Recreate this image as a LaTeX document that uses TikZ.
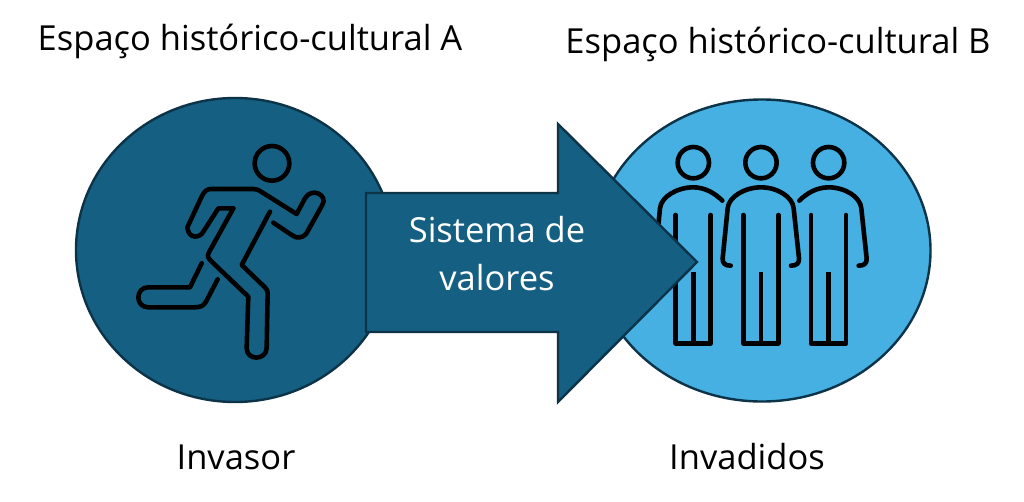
\documentclass[tikz,border=0pt]{standalone}
\usepackage{fontspec}
\setmainfont{Open Sans}
\begin{document}
\begin{tikzpicture}%
	[x=1pt, y=-1pt,
	disc/.style={draw=borderblue, line width=2.4pt},
	figline/.style={draw=black, line width=4.6pt, line cap=round, line join=round},
	label/.style={font=\fontsize{34.5}{40}\selectfont, anchor=base, inner sep=0pt, text=black},
	arrowlabel/.style={label, text=white}]
	\definecolor{darkblue}{HTML}{156082}
	\definecolor{lightblue}{HTML}{45B0E1}
	\definecolor{borderblue}{HTML}{0C3348}
	\useasboundingbox (0,0) rectangle (1024,501);
	%
	%% the two discs
	\fill[darkblue, disc] (235,250) ellipse (159 and 152);
	\fill[lightblue, disc] (762,250.5) ellipse (168.5 and 151);
	%
	%% runner
	\begin{scope}[shift={(120,130)}, x=0.3333pt, y=-0.3333pt]
		\draw[figline] (456,100) circle (52);
		\draw[figline] (340,235) -- (295,235) -- (250,305) .. controls (240,325) and (205,328) .. (202,292) -- (245,200) .. controls (255,180) and (262,177) .. (275,177) -- (400,177) .. controls (410,177) and (415,180) .. (420,183) -- (530,252) -- (555,205) .. controls (575,170) and (625,195) .. (607,225) -- (565,300) .. controls (555,325) and (530,328) .. (515,315) -- (460,278);
		\draw[figline] (450,245) -- (365,405) -- (435,472) .. controls (440,477) and (443,482) .. (443,490) -- (440,655) .. controls (438,692) and (380,692) .. (380,655) -- (385,500) -- (272,392) .. controls (262,382) and (262,375) .. (268,365) -- (340,235);
		\draw[figline] (245,400) -- (210,472) -- (85,472) .. controls (45,472) and (45,532) .. (85,532) -- (225,532) .. controls (245,532) and (252,525) .. (258,515) -- (293,448);
	\end{scope}
	%
	%% three people
	\begin{scope}[shift={(640,130)}, x=0.3333pt, y=-0.3333pt]
		\foreach \cx in {160,363,566} {
			\draw[figline] (\cx,98) circle (47);
			\draw[figline] (\cx-53,255) -- (\cx-53,640) -- (\cx+52,640) -- (\cx+52,255);
			\draw[figline, line cap=butt] (\cx,425) -- (\cx,640);
		}
		\draw[figline] (272,407) .. controls (255,407) and (247,400) .. (248,385) -- (263,235) .. controls (266,200) and (315,172) .. (363,172) .. controls (411,172) and (458,200) .. (461,235) -- (477,385) .. controls (478,400) and (470,407) .. (453,407);
		\draw[figline] (247,212) .. controls (225,190) and (195,172) .. (160,172) .. controls (112,172) and (63,200) .. (60,235) -- (45,385) .. controls (45,400) and (53,407) .. (70,407);
		\draw[figline] (478,212) .. controls (500,190) and (530,172) .. (566,172) .. controls (614,172) and (661,200) .. (664,235) -- (680,385) .. controls (681,400) and (673,407) .. (656,407);
	\end{scope}
	%
	%% arrow
	\fill[darkblue, disc] (366,193) -- (558,193) -- (558,124) -- (697,262) -- (558,402) -- (558,332) -- (366,332) -- cycle;
	%
	\node[label] (titleA) at (250,50) {Espaço histórico-cultural A};
	\node[label] (titleB) at (778,53) {Espaço histórico-cultural B};
	\node[label] (invasor) at (236,469) {Invasor};
	\node[label] (invadidos) at (747,469) {Invadidos};
	\node[arrowlabel] (sistema) at (497,242) {Sistema de};
	\node[arrowlabel] (valores) at (497,290) {valores};
\end{tikzpicture}
\end{document}
